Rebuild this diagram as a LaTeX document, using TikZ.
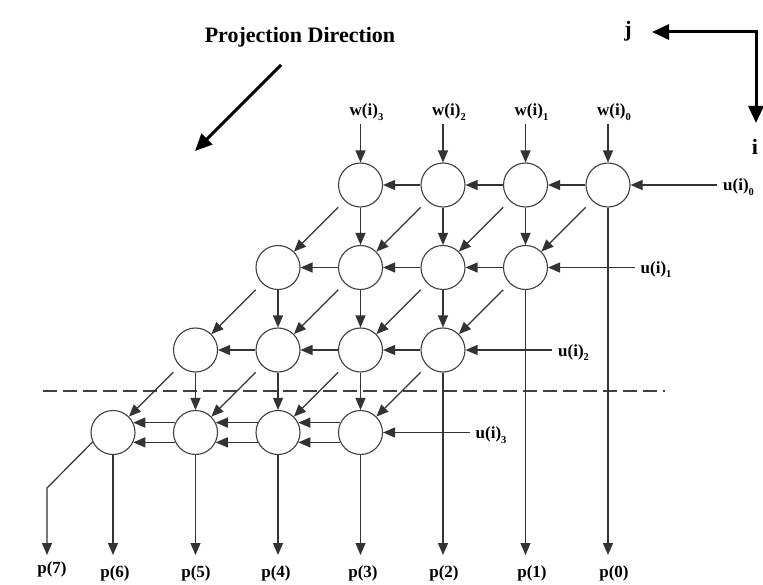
\documentclass[tikz,border=0pt]{standalone}
\usepackage{fontspec}
\setmainfont{Liberation Serif}
\usetikzlibrary{arrows.meta}
\newcommand{\lsub}[1]{\raisebox{-4.5pt}{\fontsize{10.5}{10.5}\selectfont #1}}
\begin{document}
\begin{tikzpicture}[x=1pt,y=-1pt,
  pe/.style={circle,draw=black!75,line width=1.1pt,minimum size=44pt,inner sep=0pt},
  arr/.style={draw=black!80,line width=1.2pt,-{Triangle[length=12pt,width=10pt]}},
  darr/.style={arr,shorten <=9pt},
  lbl/.style={font=\fontsize{17}{17}\selectfont\bfseries,inner sep=0pt},
  big/.style={font=\fontsize{22}{22}\selectfont\bfseries,inner sep=0pt},
  bigarr/.style={line width=3pt,-{Triangle[length=17pt,width=15pt]}},
  dline/.style={draw=black!75,line width=1.2pt,dash pattern=on 14pt off 6pt}]
\useasboundingbox (0,0) rectangle (763,585);
\fill[white] (0,0) rectangle (763,585);

% processing elements
\foreach \r in {0,...,3}{
  \foreach \k in {0,...,3}{
    \pgfmathsetmacro\xx{608-82.5*(\r+\k)}
    \pgfmathsetmacro\yy{185+82.5*\r}
    \node[pe] (n\r\k) at (\xx,\yy) {};
  }
}

% dashed line
\coordinate (dl) at (43,391);
\coordinate (dr) at (665,391);
\draw[dline] (dl) -- (dr);

% horizontal arrows rows 0-2
\foreach \r in {0,1,2}{
  \foreach \k/\l in {0/1,1/2,2/3}{
    \draw[arr] (n\r\k) -- (n\r\l);
  }
}
% double arrows row 3
\foreach \k/\l in {0/1,1/2,2/3}{
  \draw[arr] (n3\k.154) -- (n3\l.26);
  \draw[arr] (n3\k.206) -- (n3\l.334);
}

% vertical and diagonal arrows between rows
\foreach \r in {0,1,2}{
  \pgfmathtruncatemacro\rp{\r+1}
  \foreach \k in {1,2,3}{
    \pgfmathtruncatemacro\km{\k-1}
    \draw[arr] (n\r\k) -- (n\rp\km);
  }
  \foreach \k in {0,...,3}{
    \draw[darr] (n\r\k) -- (n\rp\k);
  }
}

% u inputs
\foreach \r in {0,...,3}{
  \pgfmathsetmacro\ux{717-82.5*\r}
  \pgfmathsetmacro\lx{723-82.5*\r}
  \pgfmathsetmacro\uy{185+82.5*\r}
  \pgfmathsetmacro\by{191+82.5*\r}
  \coordinate (u\r) at (\ux,\uy);
  \draw[arr] (u\r) -- (n\r0);
  \node[lbl,anchor=base west] (ul\r) at (\lx,\by) {u(i)\lsub{\r}};
}

% w inputs
\foreach \k in {0,...,3}{
  \pgfmathsetmacro\wx{608-82.5*\k}
  \pgfmathsetmacro\lx{614-82.5*\k}
  \coordinate (w\k) at (\wx,124);
  \draw[arr] (w\k) -- (n0\k);
  \node[lbl,anchor=base] (wl\k) at (\lx,116) {w(i)\lsub{\k}};
}

% outputs
\foreach \j in {0,...,6}{
  \pgfmathsetmacro\px{608-82.5*\j}
  \coordinate (p\j) at (\px,555);
}
\coordinate (p7) at (47,555);
\coordinate (c7) at (47,488);
\draw[arr] (n00) -- (p0);
\draw[arr] (n10) -- (p1);
\draw[arr] (n20) -- (p2);
\draw[arr] (n30) -- (p3);
\draw[arr] (n31) -- (p4);
\draw[arr] (n32) -- (p5);
\draw[arr] (n33) -- (p6);
\draw[arr] (n33.205) -- (c7) -- (p7);

\foreach \t/\x/\y in {0/614/577,1/532/577,2/444/577,3/363/577,4/276/577,5/196/577,6/115/577,7/52/573}{
  \node[lbl,anchor=base] (pl\t) at (\x,\y) {p(\t)};
}

% projection direction
\node[big,anchor=base] (title) at (300,43) {Projection Direction};
\coordinate (pd1) at (281,65);
\coordinate (pd2) at (195,151);
\draw[bigarr] (pd1) -- (pd2);

% axes
\coordinate (ax) at (756,32);
\coordinate (axj) at (652,32);
\coordinate (axi) at (756,123);
\draw[line width=3pt,{Triangle[length=17pt,width=15pt]}-{Triangle[length=17pt,width=15pt]}] (axj) -- (ax) -- (axi);
\node[big] (jl) at (628,31) {j};
\node[big] (il) at (755,147) {i};
\end{tikzpicture}
\end{document}
